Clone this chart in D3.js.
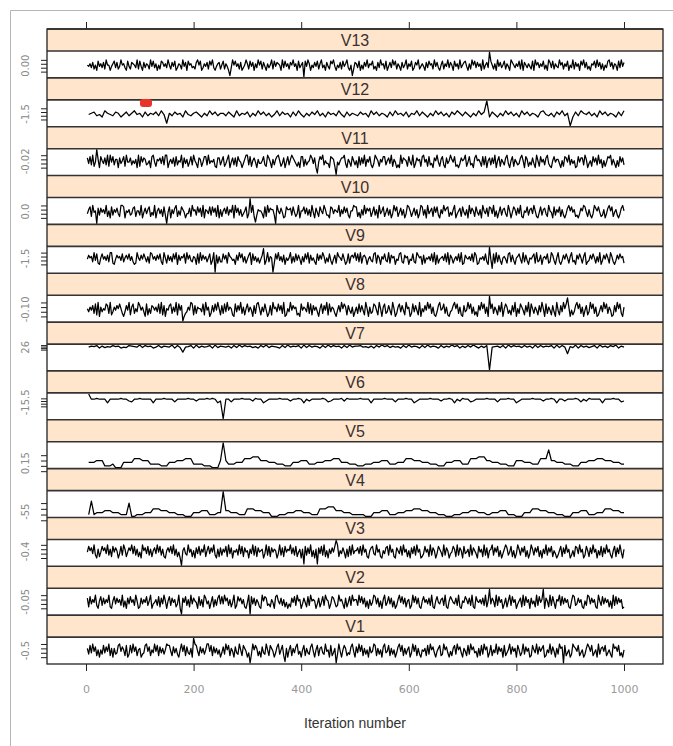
<!DOCTYPE html>
<html>
<head>
<meta charset="utf-8">
<script src="https://cdn.jsdelivr.net/npm/d3@7"></script>
<style>
  body { margin: 0; background: #fff; }
</style>
</head>
<body>
<svg id="chart" width="673" height="746"></svg>
<script>
// panels listed top to bottom, as lattice draws them
const panelNames = ["V13", "V12", "V11", "V10", "V9", "V8", "V7", "V6", "V5", "V4", "V3", "V2", "V1"];
const yLabels = ["0.00", "-1.5", "-0.02", "0.0", "-1.5", "-0.10", "26", "-15.5", "0.15", "-55", "-0.4", "-0.05", "-0.5"];
const xTicks = [0, 200, 400, 600, 800, 1000];
const yTickLevels = [0, 3, 6, 9];

// trace levels on a 0..9 scale of each band
const traces = [
  `54637251846372955146837249563184276539284173652948
   36152874639527481365294718563427958136472859314672
   58264173958462713596284716395827416359284765193846
   27594618357284961537482693517428694153728469315827
   63815274936582417395628147395826417359264813759246
   41738562947315826493751846293578416295837461925738
   85261947358264197536482917536428195736482519738264
   39572648153927461859372416583947261538947265183947`,
  `45634275436524635745263546374253645274356425374635
   53642735462537463524736452637425364735264537426354
   36452746354263745362547364253746352647536425374652
   64253746352746354267435264735426375463527463542637`,
  `73829146608537291948266073581944725360918476235089
   41657382990463718254907361482953076148829354610772
   58136904727185403699281574063358219740626895137048
   26975314088162459737014869253308761942577930641852
   50827391648203975164882573916402093765184290375618
   94618230759416820735964812037569148230795641828057
   27390581642793058164237950861427309518462793105846
   63051874926350184772960351847293605148792630518472`,
  `36819450727463915082647319980546237815529047368142
   90573618244806379152864033719562847190653828471906
   15738264909472613580384917265530819476622953740186
   67284139055837261940741853962208736549163847205598
   81406293757148260935814726039581472603985147260398
   26093571848206395781426903571842609375184260953718
   73915048267319504862739105482673951048267319540826
   48162037958461203759841620397584126037958146203795`,
  `47562938105846372991047563825748362019537485261984
   63748209517362849073658194732650819374625803947162
   28471965340739582614790836251478039265718493627053
   59162837406284917352083749615283047196538402816759
   38291675046328917506483291756043892175604382197560
   71546382907145638290751463829017546382970154638209
   46819273056418927305684192730546819237056481297305
   92037485169230748516902374851629037485196203748561`,
  `53647281906354872913647585203749168253974630815276
   46382917054782639184750236498172655381946027384951
   72839465108374926158364072895163840271956384729015
   39475612084653928174630582749183652047395861742603
   62837419506238741950682374195026837419560283741905
   37495826103794582610347958261073495826130749582601
   58264173905862417390528641739085264173950826417309
   41739582604137958260471395826014739582640173958206`,
  `57683746586735487659486735847659384756839475683947
   65738495867463859476538495768394857638495867384957
   78564738596847563849576384957638475968374859637485
   56748395867485739485768394857649385746839574869375`,
  `88898884888898865889888848889888588889886888989846
   88858889888698846888898886889848688889856888969888
   89888488889888588898846888898886889848698856888898
   88588898846888898886889848868889858698888488898856`,
  `55566633342225555777666444433355566677744443332226
   66444555777888666555444333555666444555666777555444
   33344455566644455577766655544433355566644477788866
   55544433366655544477766655544433355566677766655544`,
  `33344455544433322233344466655544433322244455533344
   55544433366655544422233344455544433366677755544433
   33322244455533344455566655544433322233344455544433
   44455533322244466655544433322244455533344466655544`,
  `48573920614857392618475038296147593826140957382615
   73948261057483926140857329461507382649158374920617
   26481937054629381745063928174560392817465039271846
   59372814606482739150647382915063748291537406182935
   57382946105783294610537829461075382946150738294601
   38461927503864192750348619275083461927530846192705
   69274815036972481503962748150396274815063927481530
   25817394602518739460285173946052817394620581739406`,
  `71836492058273649105837462915073846295017364825903
   46281739505827461390574826193754082619735048162793
   83957261490285736104958372641095872316408953726140
   31748295603741829565037148296503874129563071482956
   62948371506249837150692483715026948371560294837105
   84637291058436729105864372910548637291085463729150
   37519284603715928460357192846073519284630751928406
   59283746105982374610529837461095283746150928374601`,
  `62839471505283749160623894751802839471560238947153
   94817362598841736205948173260598417362599481736250
   37295816407329518640372958614073295186403792581460
   58163792405816327940581673294508136729405861327940
   73948162507349816250793481625037948162570394816205
   46182957304681295730416829573064182957340618295703
   81539274608135927460851392746018539274680153927406
   29674813502976481350269748135092674813520967481305`
];

// isolated excursions: [iteration, level]
const spikes = [
  [[750, 15], [268, -3], [405, -4], [495, -3]],
  [[747, 15], [900, -5], [152, -3]],
  [[20, 13], [429, -4], [466, -5]],
  [[305, 14], [20, -4], [150, -4], [316, -3], [353, -4]],
  [[240, -6], [348, -6], [330, 12], [750, 13], [755, -3]],
  [[750, 13], [894, 12], [180, -3]],
  [[750, -40], [895, -8], [180, -5]],
  [[5, 14], [253, -14]],
  [[255, 16], [862, 12]],
  [[255, 15], [10, 10], [82, 9]],
  [[178, -5], [405, -4], [429, -4], [466, 12]],
  [[750, 13], [850, 13], [178, -4], [306, -4]],
  [[200, 13], [305, -4], [465, -4], [887, -4], [370, -3]]
];

const box = { left: 47, right: 663, top: 29, bottom: 664 };
const unitH = (box.bottom - box.top) / panelNames.length;
const stripH = 22;

const svg = d3.select("#chart");

// window frame of the screenshot
svg.append("path")
  .attr("d", "M10.5,746V10.5H673")
  .attr("fill", "none")
  .attr("stroke", "#b5b5b5");

const x = d3.scaleLinear().domain([0, 1000]).range([86, 624]);

panelNames.forEach((name, i) => {
  const values = traces[i].replace(/\s/g, "").split("").map(Number);
  const step = 1000 / values.length;
  spikes[i].forEach(([it, v]) => {
    values[Math.max(0, Math.round(it / step) - 1)] = v;
  });

  const stripTop = box.top + i * unitH;
  const panelTop = stripTop + stripH;
  const panelBottom = box.top + (i + 1) * unitH;

  const ext = d3.extent(values);
  const pad = (ext[1] - ext[0]) * 0.04;
  const y = d3.scaleLinear()
    .domain([ext[0] - pad, ext[1] + pad])
    .range([panelBottom, panelTop]);

  const g = svg.append("g");

  g.append("rect")
    .attr("x", box.left).attr("y", stripTop)
    .attr("width", box.right - box.left).attr("height", stripH)
    .attr("fill", "#ffe5cc");

  g.append("text")
    .attr("x", (box.left + box.right) / 2)
    .attr("y", stripTop + stripH - 5)
    .attr("text-anchor", "middle")
    .attr("font-family", "Liberation Sans, Arial, sans-serif")
    .attr("font-size", "16px")
    .attr("fill", "#3a3030")
    .text(name);

  g.append("path")
    .datum(values)
    .attr("fill", "none")
    .attr("stroke", "#000")
    .attr("stroke-width", 1.25)
    .attr("stroke-linejoin", "round")
    .attr("d", d3.line()
      .x((d, j) => x((j + 1) * step))
      .y(d => y(d)));

  // separators
  g.append("line")
    .attr("x1", box.left).attr("x2", box.right)
    .attr("y1", stripTop).attr("y2", stripTop)
    .attr("stroke", "#333").attr("stroke-width", 1.6);
  g.append("line")
    .attr("x1", box.left).attr("x2", box.right)
    .attr("y1", panelTop).attr("y2", panelTop)
    .attr("stroke", "#333").attr("stroke-width", 1.6);

  const yAxis = g.append("g")
    .attr("transform", "translate(" + box.left + ",0)")
    .call(d3.axisLeft(y).tickValues(yTickLevels).tickSize(6).tickFormat(""));
  yAxis.select(".domain").remove();
  yAxis.selectAll("line").attr("stroke", "#222");

  g.append("text")
    .attr("transform", "translate(29," + y(4.5) + ") rotate(-90)")
    .attr("text-anchor", "middle")
    .attr("font-family", "DejaVu Sans, sans-serif")
    .attr("font-size", "10px")
    .attr("fill", "#8a8a8a")
    .text(yLabels[i]);
});

// outer box
svg.append("rect")
  .attr("x", box.left).attr("y", box.top)
  .attr("width", box.right - box.left).attr("height", box.bottom - box.top)
  .attr("fill", "none")
  .attr("stroke", "#222")
  .attr("stroke-width", 1.3);

const topAxis = svg.append("g")
  .attr("transform", "translate(0," + box.top + ")")
  .call(d3.axisTop(x).tickValues(xTicks).tickSize(7).tickFormat(""));
topAxis.select(".domain").remove();
topAxis.selectAll("line").attr("stroke", "#222");

const bottomAxis = svg.append("g")
  .attr("transform", "translate(0," + box.bottom + ")")
  .call(d3.axisBottom(x).tickValues(xTicks).tickSize(7).tickPadding(14).tickFormat(d3.format("d")));
bottomAxis.select(".domain").remove();
bottomAxis.selectAll("line").attr("stroke", "#222");
bottomAxis.selectAll("text")
  .attr("font-family", "DejaVu Sans, sans-serif")
  .attr("font-size", "11px")
  .attr("fill", "#9a9a9a");

svg.append("text")
  .attr("x", (box.left + box.right) / 2)
  .attr("y", 728)
  .attr("text-anchor", "middle")
  .attr("font-family", "Liberation Sans, Arial, sans-serif")
  .attr("font-size", "14px")
  .attr("fill", "#333")
  .text("Iteration number");

// red marker sitting on the V12 panel
svg.append("rect")
  .attr("x", 140).attr("y", 99)
  .attr("width", 12).attr("height", 8)
  .attr("rx", 3)
  .attr("fill", "#e8332c");
</script>
</body>
</html>
